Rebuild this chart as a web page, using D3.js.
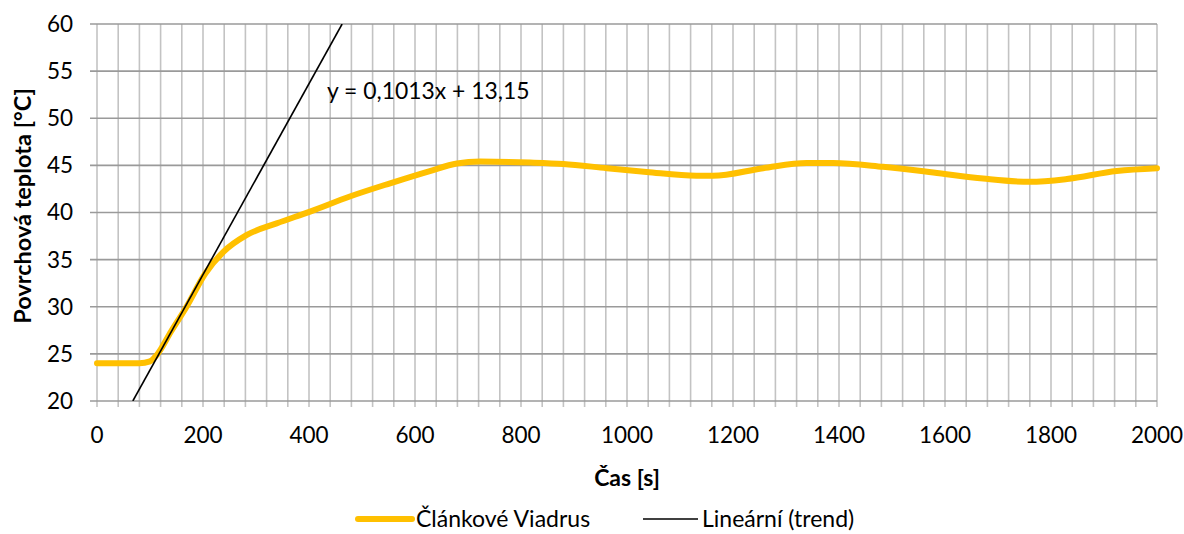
<!DOCTYPE html>
<html>
<head>
<meta charset="utf-8">
<script src="https://cdn.jsdelivr.net/npm/d3@7"></script>
<style>
  html, body { margin: 0; padding: 0; background: #fff; }
  svg text { font-family: Lato, "Open Sans", "Liberation Sans", sans-serif; fill: #000; }
</style>
</head>
<body>
<svg id="chart" width="1184" height="534"></svg>
<script>
// Measured surface temperature of the sectional radiator
const timeS = [0, 40, 80, 100, 113, 140, 169, 204, 238, 282, 339, 402, 477, 553, 628, 679, 723, 817, 880, 962, 1037, 1131, 1162, 1257, 1339, 1389, 1483, 1578, 1672, 1760, 1830, 1924, 2000];
const tempC = [24.0, 24.0, 24.0, 24.2, 24.9, 27.4, 30.0, 33.5, 35.8, 37.6, 38.85, 40.1, 41.7, 43.1, 44.4, 45.2, 45.4, 45.3, 45.15, 44.7, 44.3, 43.9, 43.9, 44.7, 45.25, 45.25, 44.85, 44.25, 43.6, 43.25, 43.55, 44.4, 44.7];

// Linear trend fitted on the heating phase
const trendSlope = 0.1013;
const trendIntercept = 13.15;
const trendLabel = "y = 0,1013x + 13,15";

const xTicks = [0, 200, 400, 600, 800, 1000, 1200, 1400, 1600, 1800, 2000];
const xMinor = d3.range(0, 2001, 40);
const yTicks = [20, 25, 30, 35, 40, 45, 50, 55, 60];
const seriesNames = ["Článkové Viadrus", "Lineární (trend)"];

const svg = d3.select("#chart");
const plotL = 97, plotR = 1157, plotT = 24, plotB = 401;
const fs = 22.5;

const x = d3.scaleLinear().domain([0, 2000]).range([plotL, plotR]);
const y = d3.scaleLinear().domain([20, 60]).range([plotB, plotT]);

// vertical minor grid, extending below the axis as tick marks
svg.append("g").selectAll("line").data(xMinor).join("line")
  .attr("x1", d => x(d)).attr("x2", d => x(d))
  .attr("y1", plotT).attr("y2", plotB + 6)
  .attr("stroke", "#c3c3c3").attr("stroke-width", 1.6);

// horizontal grid, extending left of the axis as tick marks
svg.append("g").selectAll("line").data(yTicks).join("line")
  .attr("x1", plotL - 7).attr("x2", plotR)
  .attr("y1", d => y(d)).attr("y2", d => y(d))
  .attr("stroke", "#9a9a9a").attr("stroke-width", 1.6);

// axis labels
svg.append("g").selectAll("text").data(yTicks).join("text")
  .attr("x", 73).attr("y", d => y(d)).attr("dy", "0.35em")
  .attr("text-anchor", "end").attr("font-size", fs)
  .text(d => d);

svg.append("g").selectAll("text").data(xTicks).join("text")
  .attr("x", d => x(d)).attr("y", 443)
  .attr("text-anchor", "middle").attr("font-size", fs)
  .text(d => d);

svg.append("text")
  .attr("x", x(1000)).attr("y", 486)
  .attr("text-anchor", "middle").attr("font-size", 23).attr("font-weight", "bold")
  .text("Čas [s]");

svg.append("text")
  .attr("transform", `translate(31, 206) rotate(-90)`)
  .attr("text-anchor", "middle").attr("font-size", 23.5).attr("font-weight", "bold")
  .text("Povrchová teplota [°C]");

// data series
const line = d3.line().x((d, i) => x(timeS[i])).y(d => y(d)).curve(d3.curveMonotoneX);
svg.append("path")
  .attr("d", line(tempC))
  .attr("fill", "none").attr("stroke", "#FFC000").attr("stroke-width", 6)
  .attr("stroke-linejoin", "round").attr("stroke-linecap", "round");

// trend line, clipped to the plot area
svg.append("clipPath").attr("id", "plotClip")
  .append("rect").attr("x", plotL).attr("y", plotT).attr("width", plotR - plotL).attr("height", plotB - plotT);

const tStart = (20 - trendIntercept) / trendSlope;
const tEnd = (60 - trendIntercept) / trendSlope;
svg.append("line")
  .attr("clip-path", "url(#plotClip)")
  .attr("x1", x(tStart)).attr("y1", y(trendSlope * tStart + trendIntercept))
  .attr("x2", x(tEnd)).attr("y2", y(trendSlope * tEnd + trendIntercept))
  .attr("stroke", "#000").attr("stroke-width", 1.6);

svg.append("text")
  .attr("x", 327).attr("y", 99)
  .attr("font-size", 22.9)
  .text(trendLabel);

// legend
const legY = 519;
const lg = svg.append("g");
lg.append("line").attr("x1", 358).attr("x2", 412).attr("y1", legY).attr("y2", legY)
  .attr("stroke", "#FFC000").attr("stroke-width", 6).attr("stroke-linecap", "round");
lg.append("text").attr("x", 416).attr("y", legY).attr("dy", "0.35em").attr("font-size", 23).text(seriesNames[0]);
lg.append("line").attr("x1", 643).attr("x2", 698).attr("y1", legY).attr("y2", legY)
  .attr("stroke", "#000").attr("stroke-width", 1.6);
lg.append("text").attr("x", 702).attr("y", legY).attr("dy", "0.35em").attr("font-size", 23).text(seriesNames[1]);
</script>
</body>
</html>
